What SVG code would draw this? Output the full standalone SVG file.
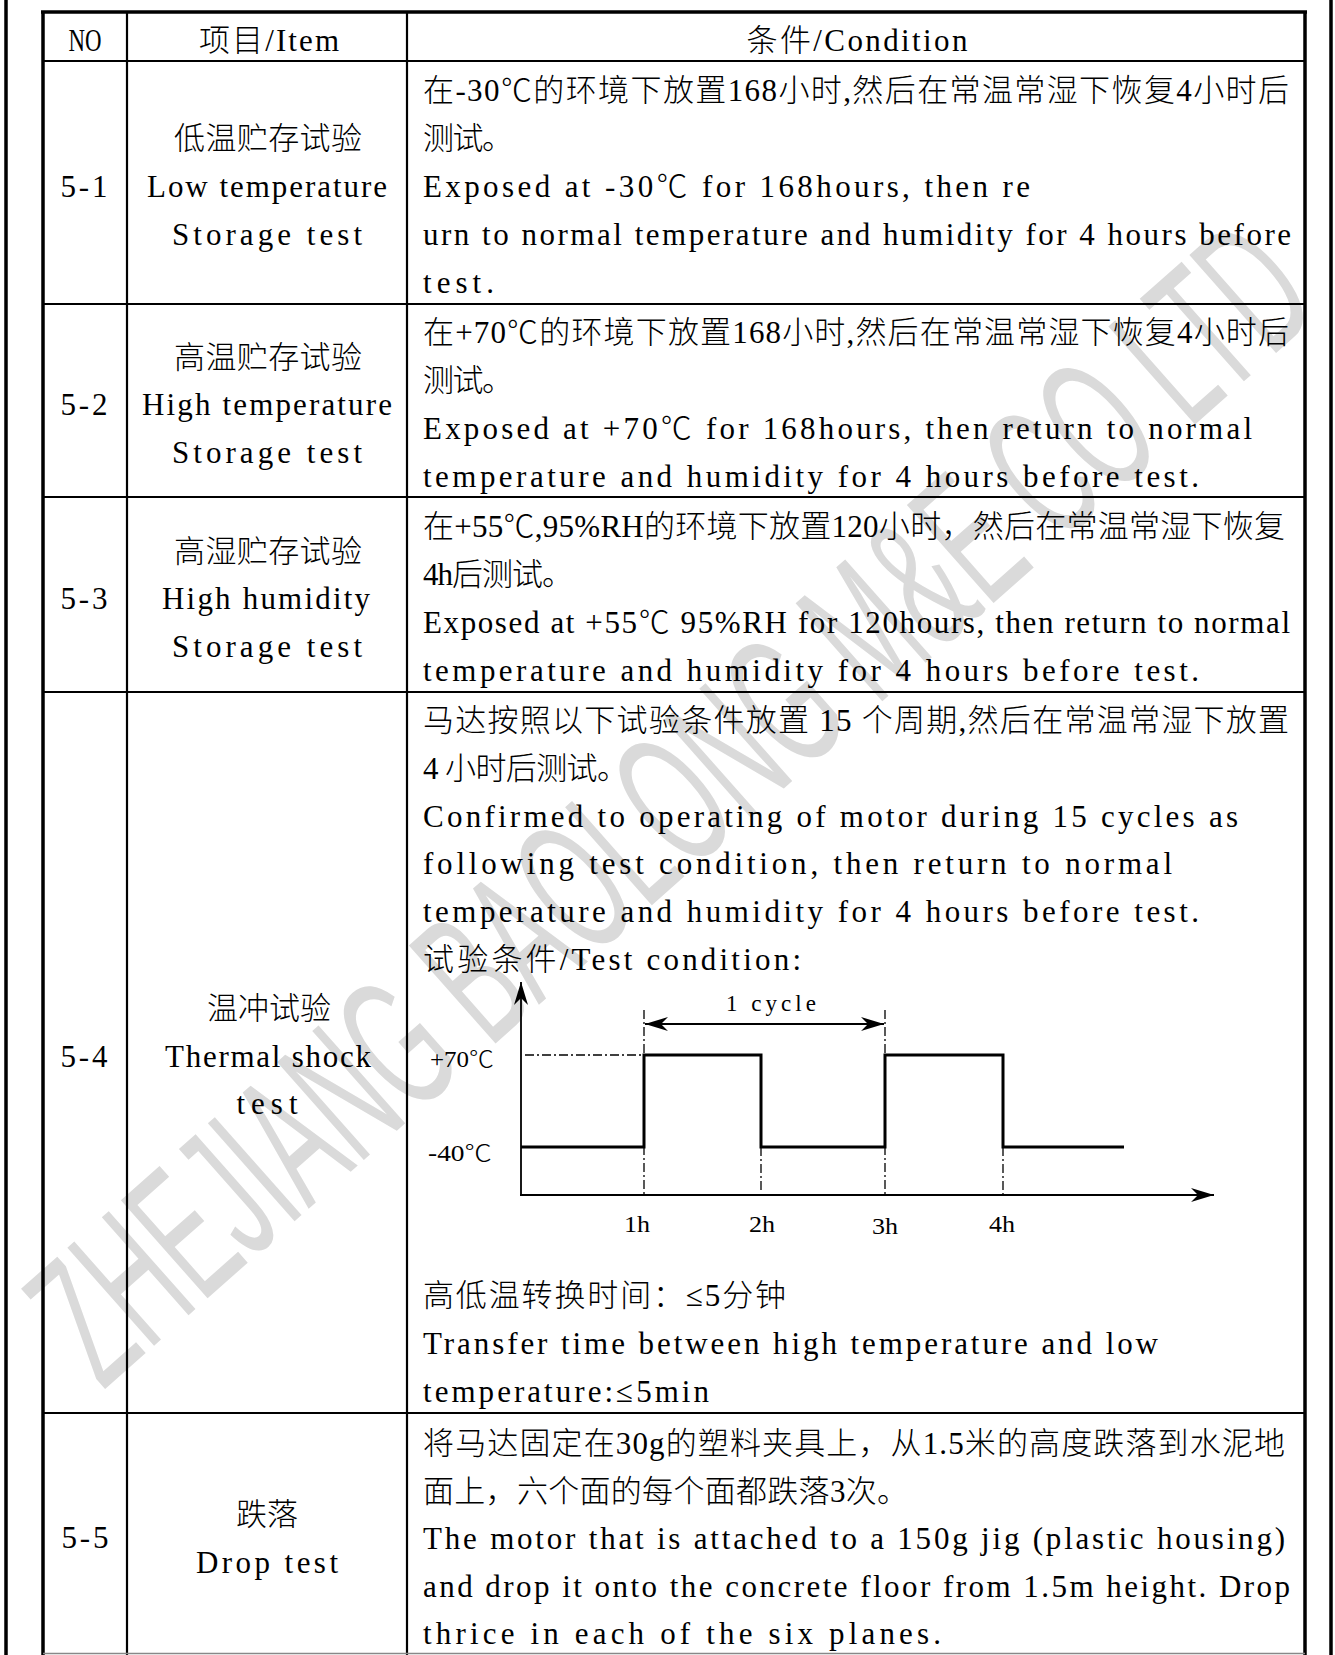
<svg xmlns="http://www.w3.org/2000/svg" width="1335" height="1655" viewBox="0 0 1335 1655">
<style>
text{font-family:"Liberation Serif","Noto Sans CJK SC",serif;font-size:31px;font-weight:300;fill:#000}
.c{text-anchor:middle}
.ch{font-size:23px}
.outer{stroke:#000;stroke-width:3.5;fill:none}
.inner{stroke:#000;stroke-width:2.2;fill:none}
.wave{stroke:#000;stroke-width:3;fill:none}
.axis{stroke:#000;stroke-width:1.8;fill:none}
.dd{stroke:#000;stroke-width:1.3;fill:none;stroke-dasharray:9 3 2 3}
.wm{font-family:"Liberation Sans","DejaVu Sans",sans-serif;font-size:190px;font-weight:400;fill:#dadada}
</style>
<defs>
<marker id="ah" viewBox="-24 -8 26 16" refX="0" refY="0" markerWidth="26" markerHeight="16" markerUnits="userSpaceOnUse" orient="auto-start-reverse">
<path d="M0,0 L-23,-7 L-16,0 L-23,7 Z" fill="#000"/>
</marker>
</defs>
<rect width="1335" height="1655" fill="#fff"/>
<g id="watermark">
<text class="wm" transform="translate(668,800) rotate(-41.5)" x="0" y="68" text-anchor="middle" textLength="1630" lengthAdjust="spacingAndGlyphs">ZHEJIANG BAOLONG M&amp;E CO LTD</text>
</g>
<g id="frame">
<line class="outer" x1="6" y1="0" x2="6" y2="1655"/>
<line class="outer" x1="1331" y1="0" x2="1331" y2="1655"/>
<line class="outer" x1="43" y1="12" x2="43" y2="1655"/>
<line class="outer" x1="1305" y1="12" x2="1305" y2="1655"/>
<line class="outer" x1="41" y1="12" x2="1307" y2="12"/>
<line class="inner" x1="127" y1="12" x2="127" y2="1655"/>
<line class="inner" x1="407" y1="12" x2="407" y2="1655"/>
<line class="inner" x1="43" y1="61" x2="1305" y2="61"/>
<line class="inner" x1="43" y1="304" x2="1305" y2="304"/>
<line class="inner" x1="43" y1="497" x2="1305" y2="497"/>
<line class="inner" x1="43" y1="692" x2="1305" y2="692"/>
<line class="inner" x1="43" y1="1413" x2="1305" y2="1413"/>
<line x1="43" y1="1653.5" x2="1305" y2="1653.5" stroke="#888" stroke-width="1.5"/>
</g>
<g id="header">
<text class="c" x="85" y="51" textLength="33" lengthAdjust="spacingAndGlyphs">NO</text>
<text class="c" x="269" y="51" textLength="140" lengthAdjust="spacing">项目/Item</text>
<text class="c" x="857" y="51" textLength="221" lengthAdjust="spacing">条件/Condition</text>
</g>
<g id="row-5-1">
<text class="c" x="84" y="197" textLength="47" lengthAdjust="spacing">5-1</text>
<text class="c" x="268" y="149" textLength="188" lengthAdjust="spacing">低温贮存试验</text>
<text class="c" x="267" y="197" textLength="240" lengthAdjust="spacing">Low temperature</text>
<text class="c" x="267" y="245" textLength="190" lengthAdjust="spacing">Storage test</text>
<text x="423" y="101" textLength="866" lengthAdjust="spacing">在-30℃的环境下放置168小时,然后在常温常湿下恢复4小时后</text>
<text x="423" y="149" textLength="90" lengthAdjust="spacing">测试。</text>
<text x="423" y="197" textLength="607" lengthAdjust="spacing">Exposed at -30℃ for 168hours, then re</text>
<text x="423" y="245" textLength="868" lengthAdjust="spacing">urn to normal temperature and humidity for 4 hours before</text>
<text x="423" y="293" textLength="71" lengthAdjust="spacing">test.</text>
</g>
<g id="row-5-2">
<text class="c" x="84" y="415" textLength="47" lengthAdjust="spacing">5-2</text>
<text class="c" x="268" y="368" textLength="188" lengthAdjust="spacing">高温贮存试验</text>
<text class="c" x="267" y="415" textLength="250" lengthAdjust="spacing">High temperature</text>
<text class="c" x="267" y="463" textLength="190" lengthAdjust="spacing">Storage test</text>
<text x="423" y="343" textLength="866" lengthAdjust="spacing">在+70℃的环境下放置168小时,然后在常温常湿下恢复4小时后</text>
<text x="423" y="391" textLength="90" lengthAdjust="spacing">测试。</text>
<text x="423" y="439" textLength="829" lengthAdjust="spacing">Exposed at +70℃ for 168hours, then return to normal</text>
<text x="423" y="487" textLength="776" lengthAdjust="spacing">temperature and humidity for 4 hours before test.</text>
</g>
<g id="row-5-3">
<text class="c" x="84" y="609" textLength="47" lengthAdjust="spacing">5-3</text>
<text class="c" x="268" y="562" textLength="188" lengthAdjust="spacing">高湿贮存试验</text>
<text class="c" x="266" y="609" textLength="208" lengthAdjust="spacing">High humidity</text>
<text class="c" x="267" y="657" textLength="190" lengthAdjust="spacing">Storage test</text>
<text x="423" y="537" textLength="862" lengthAdjust="spacing">在+55℃,95%RH的环境下放置120小时，然后在常温常湿下恢复</text>
<text x="423" y="585" textLength="150" lengthAdjust="spacing">4h后测试。</text>
<text x="423" y="633" textLength="867" lengthAdjust="spacing">Exposed at +55℃  95%RH for 120hours, then return to normal</text>
<text x="423" y="681" textLength="776" lengthAdjust="spacing">temperature and humidity for 4 hours before test.</text>
</g>
<g id="row-5-4">
<text class="c" x="84" y="1067" textLength="47" lengthAdjust="spacing">5-4</text>
<text class="c" x="269" y="1019" textLength="124" lengthAdjust="spacing">温冲试验</text>
<text class="c" x="268" y="1067" textLength="206" lengthAdjust="spacing">Thermal shock</text>
<text class="c" x="267" y="1114" textLength="61" lengthAdjust="spacing">test</text>
<text x="423" y="731" textLength="866" lengthAdjust="spacing">马达按照以下试验条件放置 15 个周期,然后在常温常湿下放置</text>
<text x="423" y="779" textLength="205" lengthAdjust="spacing">4 小时后测试。</text>
<text x="423" y="827" textLength="815" lengthAdjust="spacing">Confirmed to operating of motor during 15 cycles as</text>
<text x="423" y="874" textLength="749" lengthAdjust="spacing">following test condition, then return to normal</text>
<text x="423" y="922" textLength="776" lengthAdjust="spacing">temperature and humidity for 4 hours before test.</text>
<text x="423" y="970" textLength="378" lengthAdjust="spacing">试验条件/Test condition:</text>
<text x="423" y="1306" textLength="363" lengthAdjust="spacing">高低温转换时间：≤5分钟</text>
<text x="423" y="1354" textLength="735" lengthAdjust="spacing">Transfer time between high temperature and low</text>
<text x="423" y="1402" textLength="286" lengthAdjust="spacing">temperature:≤5min</text>
</g>
<g id="chart-labels">
<text class="ch" x="726" y="1011" textLength="90" lengthAdjust="spacing">1 cycle</text>
<text class="ch" x="430" y="1067" textLength="64" lengthAdjust="spacingAndGlyphs">+70℃</text>
<text class="ch" x="428" y="1161" textLength="64" lengthAdjust="spacingAndGlyphs">-40℃</text>
<text class="ch" x="624" y="1232" textLength="26" lengthAdjust="spacingAndGlyphs">1h</text>
<text class="ch" x="749" y="1232" textLength="26" lengthAdjust="spacingAndGlyphs">2h</text>
<text class="ch" x="872" y="1234" textLength="26" lengthAdjust="spacingAndGlyphs">3h</text>
<text class="ch" x="989" y="1232" textLength="26" lengthAdjust="spacingAndGlyphs">4h</text>
</g>
<g id="connectors">
<line class="axis" x1="521" y1="1196" x2="521" y2="982" marker-end="url(#ah)"/>
<line class="axis" x1="520" y1="1195" x2="1214" y2="1195" marker-end="url(#ah)"/>
<polyline class="wave" points="521,1147 644,1147 644,1055 761,1055 761,1147 885,1147 885,1055 1003,1055 1003,1147 1124,1147"/>
<line class="dd" x1="644" y1="1010" x2="644" y2="1195"/>
<line class="dd" x1="885" y1="1010" x2="885" y2="1195"/>
<line class="dd" x1="761" y1="1147" x2="761" y2="1192"/>
<line class="dd" x1="1003" y1="1147" x2="1003" y2="1195"/>
<line class="dd" x1="525" y1="1055" x2="644" y2="1055"/>
<line class="axis" x1="645" y1="1024" x2="884" y2="1024" marker-start="url(#ah)" marker-end="url(#ah)"/>
</g>
<g id="row-5-5">
<text class="c" x="85" y="1548" textLength="47" lengthAdjust="spacing">5-5</text>
<text class="c" x="267" y="1525" textLength="62" lengthAdjust="spacing">跌落</text>
<text class="c" x="267" y="1573" textLength="142" lengthAdjust="spacing">Drop test</text>
<text x="423" y="1454" textLength="862" lengthAdjust="spacing">将马达固定在30g的塑料夹具上，从1.5米的高度跌落到水泥地</text>
<text x="423" y="1502" textLength="485" lengthAdjust="spacing">面上，六个面的每个面都跌落3次。</text>
<text x="423" y="1549" textLength="862" lengthAdjust="spacing">The motor that is attached to a 150g jig (plastic housing)</text>
<text x="423" y="1597" textLength="867" lengthAdjust="spacing">and drop it onto the concrete floor from 1.5m height. Drop</text>
<text x="423" y="1644" textLength="518" lengthAdjust="spacing">thrice in each of the six planes.</text>
</g>
</svg>
